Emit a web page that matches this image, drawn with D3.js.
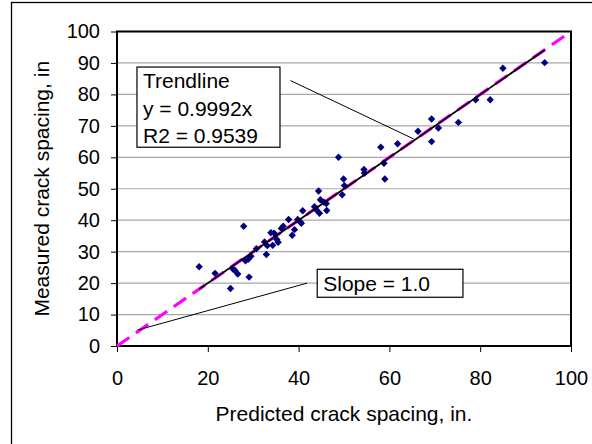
<!DOCTYPE html>
<html>
<head>
<meta charset="utf-8">
<script src="https://cdn.jsdelivr.net/npm/d3@7/dist/d3.min.js"></script>
<style>
  html, body { margin: 0; padding: 0; background: #fff; }
  svg { display: block; font-family: "Liberation Sans", Arial, sans-serif; }
</style>
</head>
<body>
<svg id="chart" width="592" height="444"></svg>
<script>
// Predicted vs measured crack spacing (in.)
const predicted = [18.1, 21.6, 25.0, 25.6, 26.0, 26.6, 27.9, 28.3, 28.9, 29.5, 29.1, 30.7, 32.5, 32.9, 33.1,
  33.9, 34.6, 34.3, 35.2, 35.5, 36.2, 36.6, 37.8, 38.6, 39.1, 39.8, 40.4, 40.6, 40.9, 43.5, 43.9, 44.4,
  44.8, 44.6, 45.6, 46.1, 46.2, 48.8, 49.9, 49.6, 50.1, 54.4, 54.5, 58.1, 58.8, 59.0, 61.8, 66.3, 69.3,
  69.3, 70.8, 75.2, 79.0, 82.2, 85.0, 94.2];
const measured = [25.2, 23.1, 18.3, 24.4, 24.0, 22.9, 38.1, 27.1, 27.6, 28.5, 21.9, 30.9, 33.1, 29.1, 31.9,
  36.0, 35.9, 32.0, 33.9, 33.0, 37.4, 38.1, 40.2, 35.2, 37.0, 40.2, 39.4, 39.0, 43.0, 44.3, 43.3, 49.3,
  46.5, 42.2, 45.7, 45.3, 43.1, 60.0, 53.1, 48.1, 51.0, 56.1, 55.0, 63.2, 58.1, 53.1, 64.3, 68.3, 72.2,
  65.0, 69.3, 71.1, 78.3, 78.3, 88.3, 90.1];

const xTicks = [0, 20, 40, 60, 80, 100];
const yTicks = [0, 10, 20, 30, 40, 50, 60, 70, 80, 90, 100];

const trendSlope = 0.9992;
const trendLabel = ["Trendline", "y = 0.9992x", "R2 = 0.9539"];
const unitSlope = 1.0;
const unitLabel = "Slope = 1.0";

const svg = d3.select("#chart");
const plot = { left: 117, right: 571, top: 31.5, bottom: 346 };

const x = d3.scaleLinear().domain([0, 100]).range([plot.left, plot.right]);
const y = d3.scaleLinear().domain([0, 100]).range([plot.bottom, plot.top]);

// outer chart frame (left and top edges visible)
svg.append("rect")
  .attr("x", 11.5).attr("y", 2.5)
  .attr("width", 700).attr("height", 600)
  .attr("fill", "none").attr("stroke", "#000").attr("stroke-width", 1.3);

// horizontal gridlines
svg.append("g")
  .selectAll("line")
  .data(yTicks.slice(1, -1))
  .join("line")
  .attr("x1", plot.left).attr("x2", plot.right)
  .attr("y1", d => y(d)).attr("y2", d => y(d))
  .attr("stroke", "#a8a8a8").attr("stroke-width", 1.2);

// axes
const yAxis = svg.append("g")
  .attr("transform", `translate(${plot.left},0)`)
  .call(d3.axisLeft(y).tickValues(yTicks).tickSize(6).tickPadding(11).tickSizeOuter(0));
const xAxis = svg.append("g")
  .attr("transform", `translate(0,${plot.bottom})`)
  .call(d3.axisBottom(x).tickValues(xTicks).tickSize(6).tickPadding(19).tickSizeOuter(0));

[xAxis, yAxis].forEach(a => {
  a.select(".domain").remove();
  a.selectAll(".tick line").attr("stroke", "#000").attr("stroke-width", 1);
  a.selectAll(".tick text")
    .attr("font-family", "Liberation Sans, Arial, sans-serif")
    .attr("font-size", 20).attr("fill", "#000");
});

// plot frame
svg.append("rect")
  .attr("x", plot.left).attr("y", plot.top)
  .attr("width", plot.right - plot.left).attr("height", plot.bottom - plot.top)
  .attr("fill", "none").attr("stroke", "#000").attr("stroke-width", 2);

// slope = 1.0 reference line
svg.append("line")
  .attr("x1", x(0)).attr("y1", y(0))
  .attr("x2", x(100)).attr("y2", y(100 * unitSlope))
  .attr("stroke", "#ff00ff").attr("stroke-width", 3.2)
  .attr("stroke-dasharray", "15,8");

// data points (diamonds)
const pts = predicted.map((p, i) => ({ p, m: measured[i] }));
const r = 3.7;
svg.append("g")
  .selectAll("path")
  .data(pts)
  .join("path")
  .attr("d", d => {
    const cx = x(d.p), cy = y(d.m);
    return `M${cx},${cy - r}L${cx + r},${cy}L${cx},${cy + r}L${cx - r},${cy}Z`;
  })
  .attr("fill", "#000080");

// fitted trendline through the origin
const xMin = d3.min(predicted), xMax = d3.max(predicted);
svg.append("line")
  .attr("x1", x(xMin)).attr("y1", y(trendSlope * xMin))
  .attr("x2", x(xMax)).attr("y2", y(trendSlope * xMax))
  .attr("stroke", "#000").attr("stroke-width", 1.8);

// annotation: trendline
svg.append("line")
  .attr("x1", x(38.2)).attr("y1", y(84.4))
  .attr("x2", x(65.4)).attr("y2", y(65.8))
  .attr("stroke", "#000").attr("stroke-width", 1);
svg.append("rect")
  .attr("x", x(4.4)).attr("y", y(88.7))
  .attr("width", x(35.9) - x(4.4)).attr("height", y(63.2) - y(88.7))
  .attr("fill", "#fff").attr("stroke", "#000").attr("stroke-width", 1.2);
svg.append("g")
  .selectAll("text")
  .data(trendLabel)
  .join("text")
  .attr("x", x(4.4) + 6)
  .attr("y", (d, i) => y(88.7) + 21 + i * 27.5)
  .attr("font-size", 21).attr("fill", "#000")
  .text(d => d);

// annotation: slope line
svg.append("line")
  .attr("x1", x(41.9)).attr("y1", y(20.0))
  .attr("x2", x(4.6)).attr("y2", y(5.1))
  .attr("stroke", "#000").attr("stroke-width", 1);
svg.append("rect")
  .attr("x", x(44.1)).attr("y", y(24.4))
  .attr("width", x(76.2) - x(44.1)).attr("height", y(15.5) - y(24.4))
  .attr("fill", "#fff").attr("stroke", "#000").attr("stroke-width", 1.2);
svg.append("text")
  .attr("x", x(44.1) + 6).attr("y", y(24.4) + 21.5)
  .attr("font-size", 21).attr("fill", "#000")
  .text(unitLabel);

// axis titles
svg.append("text")
  .attr("x", (plot.left + plot.right) / 2).attr("y", 420.5)
  .attr("text-anchor", "middle").attr("font-size", 21).attr("fill", "#000")
  .text("Predicted crack spacing, in.");
svg.append("text")
  .attr("transform", `translate(49,${(plot.top + plot.bottom) / 2}) rotate(-90)`)
  .attr("text-anchor", "middle").attr("font-size", 21).attr("fill", "#000")
  .text("Measured crack spacing, in");
</script>
</body>
</html>
